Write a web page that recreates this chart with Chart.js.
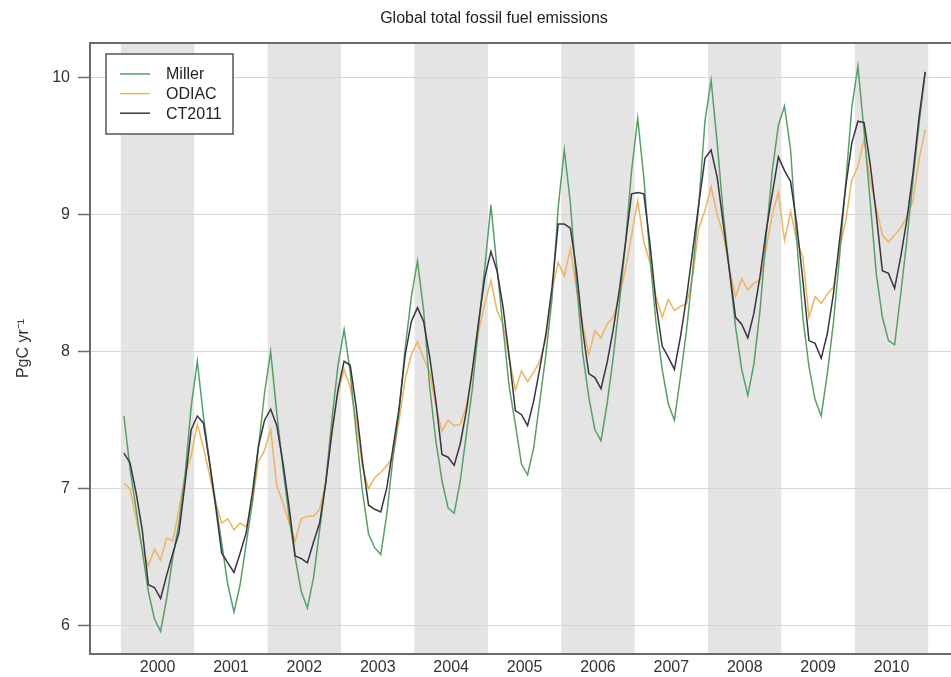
<!DOCTYPE html>
<html>
<head>
<meta charset="utf-8">
<title>Global total fossil fuel emissions</title>
<script src="https://cdn.jsdelivr.net/npm/chart.js@4/dist/chart.umd.min.js"></script>
<style>
  html, body { margin: 0; padding: 0; background: #fff; }
  canvas { display: block; }
</style>
</head>
<body>
<canvas id="emissionsChart" width="951" height="677"></canvas>
<script>
// monthly values, Jan 2000 .. Dec 2010 (PgC/yr)
const startYear = 2000;
const years = [2000, 2001, 2002, 2003, 2004, 2005, 2006, 2007, 2008, 2009, 2010];
const shadedYears = [2000, 2002, 2004, 2006, 2008, 2010];
const yTicks = [6, 7, 8, 9, 10];

const miller = [
  7.53, 7.15, 6.85, 6.55, 6.25, 6.05, 5.96, 6.20, 6.50, 6.75, 7.10, 7.60,
  7.93, 7.53, 7.20, 6.90, 6.60, 6.30, 6.10, 6.30, 6.60, 6.90, 7.30, 7.70,
  8.00, 7.55, 7.15, 6.80, 6.50, 6.25, 6.13, 6.35, 6.70, 7.05, 7.50, 7.90,
  8.16, 7.85, 7.40, 6.98, 6.67, 6.57, 6.52, 6.82, 7.23, 7.57, 8.03, 8.40,
  8.66, 8.30, 7.74, 7.35, 7.06, 6.86, 6.82, 7.06, 7.40, 7.74, 8.20, 8.61,
  9.07, 8.61, 8.17, 7.74, 7.47, 7.18, 7.10, 7.30, 7.64, 7.98, 8.39, 9.05,
  9.47, 9.08, 8.50, 7.99, 7.67, 7.43, 7.35, 7.62, 7.96, 8.35, 8.79, 9.32,
  9.70, 9.27, 8.69, 8.21, 7.87, 7.62, 7.50, 7.82, 8.16, 8.59, 9.08, 9.68,
  9.98, 9.52, 9.00, 8.59, 8.18, 7.87, 7.68, 7.91, 8.30, 8.84, 9.32, 9.65,
  9.79, 9.47, 8.81, 8.25, 7.89, 7.65, 7.53, 7.84, 8.21, 8.69, 9.22, 9.78,
  10.08, 9.61, 9.10, 8.57, 8.25, 8.08, 8.05, 8.42, 8.81, 9.25, 9.66, 10.04
];

const odiac = [
  7.04, 7.00, 6.78, 6.56, 6.44, 6.56, 6.48, 6.64, 6.62, 6.85, 7.10, 7.24,
  7.47, 7.30, 7.10, 6.90, 6.75, 6.78, 6.70, 6.75, 6.72, 6.90, 7.20, 7.28,
  7.43, 7.02, 6.90, 6.75, 6.62, 6.78, 6.80, 6.80, 6.85, 7.05, 7.40, 7.70,
  7.87, 7.74, 7.50, 7.16, 7.00, 7.08, 7.12, 7.17, 7.23, 7.50, 7.80, 7.98,
  8.07, 7.95, 7.85, 7.60, 7.42, 7.50, 7.46, 7.47, 7.60, 7.85, 8.15, 8.35,
  8.52, 8.30, 8.20, 7.95, 7.72, 7.86, 7.78, 7.85, 7.93, 8.10, 8.45, 8.65,
  8.55, 8.75, 8.45, 8.20, 7.98, 8.15, 8.10, 8.20, 8.25, 8.40, 8.60, 8.85,
  9.10, 8.80, 8.65, 8.40, 8.25, 8.38, 8.30, 8.33, 8.35, 8.55, 8.90, 9.03,
  9.20, 9.00, 8.85, 8.60, 8.40, 8.53, 8.45, 8.50, 8.52, 8.75, 9.00, 9.16,
  8.81, 9.02, 8.81, 8.69, 8.25, 8.40, 8.35, 8.42, 8.47, 8.75, 8.95, 9.25,
  9.35, 9.55, 9.25, 9.05, 8.85, 8.80, 8.85, 8.90, 8.98, 9.10, 9.40, 9.62
];

const ct2011 = [
  7.26, 7.19, 6.97, 6.70, 6.30, 6.28, 6.20, 6.37, 6.53, 6.68, 7.04, 7.43,
  7.53, 7.48, 7.19, 6.87, 6.53, 6.46, 6.39, 6.53, 6.68, 6.97, 7.31, 7.50,
  7.58, 7.46, 7.19, 6.87, 6.51, 6.49, 6.46, 6.61, 6.75, 7.04, 7.41, 7.72,
  7.93, 7.90, 7.59, 7.20, 6.88, 6.85, 6.83, 7.01, 7.30, 7.59, 7.98, 8.22,
  8.32, 8.22, 7.96, 7.64, 7.25, 7.23, 7.17, 7.33, 7.57, 7.88, 8.22, 8.54,
  8.73, 8.59, 8.32, 7.96, 7.57, 7.54, 7.46, 7.64, 7.88, 8.13, 8.47, 8.93,
  8.93, 8.90, 8.59, 8.16, 7.84, 7.81, 7.73, 7.92, 8.16, 8.45, 8.79, 9.15,
  9.16, 9.15, 8.79, 8.35, 8.04, 7.96, 7.87, 8.11, 8.40, 8.74, 9.08, 9.41,
  9.47, 9.27, 8.93, 8.59, 8.25, 8.20, 8.10, 8.28, 8.55, 8.88, 9.15, 9.42,
  9.32, 9.24, 8.93, 8.52, 8.08, 8.06, 7.95, 8.13, 8.42, 8.81, 9.20, 9.52,
  9.68, 9.67, 9.37, 9.00, 8.59, 8.57, 8.46, 8.69, 8.96, 9.30, 9.71, 10.04
];

const FONT = "'Liberation Sans', Arial, Helvetica, sans-serif";

// month index -> decimal year (mid-month)
function toPoints(values) {
  return values.map((v, i) => ({ x: startYear + (i + 0.5) / 12, y: v }));
}

// grey bands behind every other year
const yearBands = {
  id: 'yearBands',
  beforeDraw(chart) {
    const { ctx, chartArea, scales } = chart;
    ctx.save();
    ctx.fillStyle = '#e4e4e4';
    shadedYears.forEach(y => {
      const x0 = scales.x.getPixelForValue(y);
      const x1 = scales.x.getPixelForValue(y + 1);
      ctx.fillRect(x0, chartArea.top, x1 - x0, chartArea.bottom - chartArea.top);
    });
    ctx.restore();
  }
};

// title, top frame line and boxed legend
const frameAndLegend = {
  id: 'frameAndLegend',
  afterDraw(chart) {
    const { ctx, chartArea } = chart;
    ctx.save();

    ctx.strokeStyle = '#6a6a6a';
    ctx.lineWidth = 2;
    ctx.beginPath();
    ctx.moveTo(chartArea.left - 1, chartArea.top);
    ctx.lineTo(chartArea.right, chartArea.top);
    ctx.stroke();

    ctx.fillStyle = '#222';
    ctx.font = '16px ' + FONT;
    ctx.textAlign = 'center';
    ctx.textBaseline = 'middle';
    ctx.fillText('Global total fossil fuel emissions', 494, 19);

    // legend box
    const bx = 106, by = 54, bw = 127, bh = 80;
    ctx.fillStyle = '#fff';
    ctx.fillRect(bx, by, bw, bh);
    ctx.strokeStyle = '#555';
    ctx.lineWidth = 1.5;
    ctx.strokeRect(bx, by, bw, bh);

    ctx.textAlign = 'left';
    chart.data.datasets.forEach((ds, i) => {
      const yy = 74 + i * 19.6;
      ctx.strokeStyle = ds.borderColor;
      ctx.lineWidth = 1.5;
      ctx.beginPath();
      ctx.moveTo(120, yy);
      ctx.lineTo(150, yy);
      ctx.stroke();
      ctx.fillStyle = '#222';
      ctx.fillText(ds.label, 166, yy + 1);
    });
    ctx.restore();
  }
};

new Chart(document.getElementById('emissionsChart'), {
  type: 'line',
  data: {
    datasets: [
      { label: 'Miller', data: toPoints(miller), borderColor: '#55a165', order: 1 },
      { label: 'ODIAC', data: toPoints(odiac), borderColor: '#f0b35e', order: 2 },
      { label: 'CT2011', data: toPoints(ct2011), borderColor: '#3a3342', order: 0 }
    ]
  },
  options: {
    responsive: false,
    animation: false,
    parsing: true,
    elements: {
      line: { borderWidth: 1.5, tension: 0, fill: false },
      point: { radius: 0 }
    },
    layout: { padding: { top: 43, right: 0, bottom: 0, left: 0 } },
    plugins: {
      legend: { display: false },
      title: { display: false },
      tooltip: { enabled: false }
    },
    scales: {
      x: {
        type: 'linear',
        min: 1999.58,
        max: 2011.31,
        afterBuildTicks: axis => { axis.ticks = years.map(y => ({ value: y + 0.5 })); },
        afterFit: axis => { axis.height = 23; },
        ticks: {
          callback: v => String(Math.floor(v)),
          autoSkip: false,
          maxRotation: 0,
          padding: 4,
          color: '#333',
          font: { size: 16, family: FONT }
        },
        grid: { display: false, drawTicks: false },
        border: { display: true, color: '#6a6a6a', width: 2 }
      },
      y: {
        min: 5.795,
        max: 10.25,
        afterBuildTicks: axis => { axis.ticks = yTicks.map(v => ({ value: v })); },
        afterFit: axis => { axis.width = 90; },
        ticks: {
          padding: 8,
          color: '#333',
          font: { size: 16, family: FONT }
        },
        grid: {
          color: '#d6d6d6',
          lineWidth: 1,
          tickLength: 12,
          tickColor: '#6a6a6a',
          tickWidth: 1.5
        },
        border: { display: true, color: '#6a6a6a', width: 2 },
        title: {
          display: true,
          text: 'PgC yr\u207B\u00B9',
          color: '#333',
          font: { size: 16, family: FONT },
          padding: { top: 14, bottom: 0 }
        }
      }
    }
  },
  plugins: [yearBands, frameAndLegend]
});
</script>
</body>
</html>
